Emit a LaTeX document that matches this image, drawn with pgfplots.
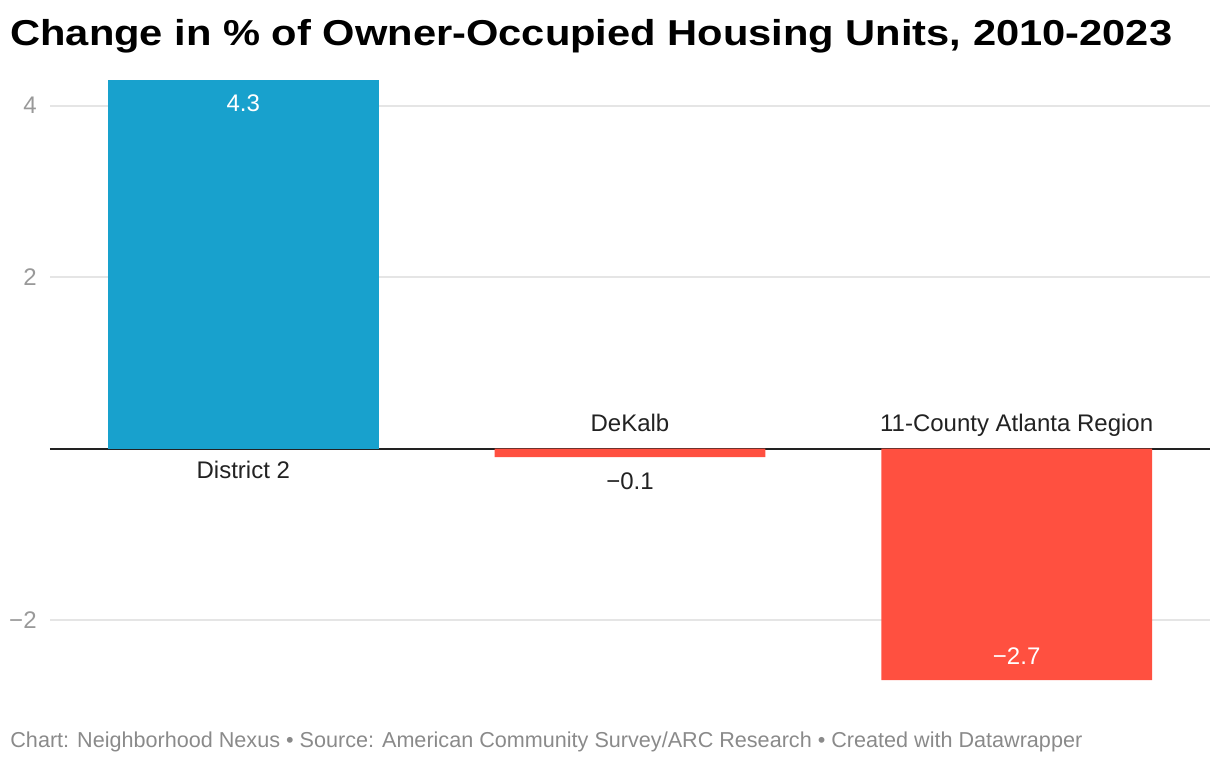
\documentclass[border=0pt]{standalone}
\usepackage{fontspec}
\setmainfont{Liberation Sans}
\usepackage{pgfplots}
\pgfplotsset{compat=1.18}
\definecolor{dwblue}{HTML}{18A1CD}
\definecolor{dwred}{HTML}{FF5040}
\definecolor{tickgray}{HTML}{999999}
\definecolor{footgray}{HTML}{8A8A8A}
\definecolor{gridgray}{HTML}{E5E5E5}
\definecolor{labeldark}{HTML}{222222}

\begin{document}
\begin{tikzpicture}
\useasboundingbox (0,0) rectangle (610pt,381pt);

\node[anchor=base west, inner sep=0pt] at (5pt,358pt)
  {\scalebox{1.157}[1]{\fontsize{18}{22}\selectfont\bfseries Change in \% of Owner-Occupied Housing Units, 2010-2023}};

\begin{axis}[
    at={(25pt,41pt)}, anchor=south west,
    scale only axis,
    width=580pt, height=300pt,
    xmin=-0.5, xmax=2.5,
    ymin=-2.7, ymax=4.3,
    ybar, bar width=0.7, bar shift=0pt,
    axis line style={draw=none},
    xtick=\empty,
    ytick={-2,2,4},
    yticklabels={−2,2,4},
    ymajorgrids=true,
    grid style={gridgray, line width=1pt},
    major tick length=0pt,
    yticklabel style={font=\fontsize{12}{14}\selectfont, text=tickgray, inner sep=0pt, anchor=east, xshift=-6.5pt},
    extra y ticks={0},
    extra y tick labels={},
    extra y tick style={grid style={labeldark, line width=1pt}},
    clip=false,
]
  \addplot[draw=none, fill=dwblue] coordinates {(0,4.3)};
  \addplot[draw=none, fill=dwred] coordinates {(1,-0.1) (2,-2.7)};

  \begin{scope}[every node/.style={font=\fontsize{12}{14}\selectfont, inner sep=0pt, anchor=base}]
    \node[text=labeldark] at ([yshift=-15pt]axis cs:0,0) {District 2};
    \node[text=labeldark] at ([yshift=8.5pt]axis cs:1,0) {DeKalb};
    \node[text=labeldark] at ([yshift=8.5pt]axis cs:2,0) {11-County Atlanta Region};
    \node[text=white] at ([yshift=-15.5pt]axis cs:0,4.3) {4.3};
    \node[text=labeldark] at ([yshift=-20.5pt]axis cs:1,0) {−0.1};
    \node[text=white] at ([yshift=8pt]axis cs:2,-2.7) {−2.7};
  \end{scope}
\end{axis}

\node[anchor=base west, inner sep=0pt, text=footgray] at (5pt,7.5pt)
  {\fontsize{10.8}{12}\selectfont Chart: Neighborhood Nexus • Source: American Community Survey/ARC Research • Created with Datawrapper};
\end{tikzpicture}
\end{document}
